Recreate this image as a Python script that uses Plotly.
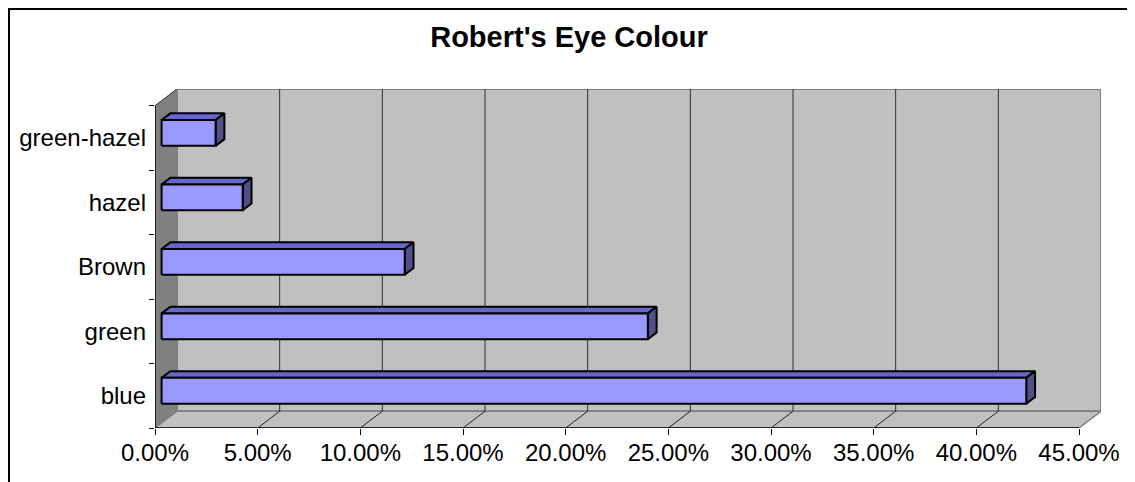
"""Robert's Eye Colour: Excel-style 3D horizontal bar chart."""

import plotly.graph_objects as go

categories = ["blue", "green", "Brown", "hazel", "green-hazel"]
shares = [42.11, 23.68, 11.84, 3.95, 2.63]  # percent
x_ticks = [0, 5, 10, 15, 20, 25, 30, 35, 40, 45]
x_tick_labels = [f"{t:.2f}%" for t in x_ticks]

# oblique depth of the chart box, in axis units
DX = 1.0714
DY = 0.26
BAR_HALF = 0.2
F0, F1 = 0.3, 0.7

FRONT = "#9999FF"
TOP = "#6666CC"
SIDE = "#505088"
WALL = "#C0C0C0"
SIDE_WALL = "#808080"
FONT = "Liberation Sans, Arial, sans-serif"

n = len(categories)
xmax = x_ticks[-1]

fig = go.Figure()


def poly(xs, ys, fill, line_color=None, width=1.0):
    fig.add_trace(
        go.Scatter(
            x=xs + xs[:1], y=ys + ys[:1], mode="lines", fill="toself",
            fillcolor=fill, line={"color": line_color or fill, "width": width},
            hoverinfo="skip", showlegend=False,
        )
    )


def seg(xs, ys, color, width=1.0):
    fig.add_trace(
        go.Scatter(
            x=xs, y=ys, mode="lines", line={"color": color, "width": width},
            hoverinfo="skip", showlegend=False,
        )
    )


# back wall, left wall, floor
poly([DX, xmax + DX, xmax + DX, DX], [DY, DY, n + DY, n + DY], WALL, SIDE_WALL, 2)
poly([0, DX, DX, 0], [0, DY, n + DY, n], SIDE_WALL, SIDE_WALL, 1)
poly([0, xmax, xmax + DX, DX], [0, 0, DY, DY], WALL, SIDE_WALL, 1.5)
seg([0, DX], [n, n + DY], "#404040", 1)

# gridlines on the back wall and floor
for t in x_ticks[1:-1]:
    seg([t + DX, t + DX], [DY, n + DY], "#303030", 1)
    seg([t, t + DX], [0, DY], "#202020", 1)

# front axis lines
seg([0, xmax], [0, 0], "black", 1.5)
seg([0, 0], [0, n], "black", 1.5)

# bars
for i, v in enumerate(shares):
    y0 = i + 0.5 - BAR_HALF
    y1 = i + 0.5 + BAR_HALF
    a0, a1 = F0 * DX, F1 * DX
    b0, b1 = F0 * DY, F1 * DY
    poly([a0, v + a0, v + a1, a1], [y1 + b0, y1 + b0, y1 + b1, y1 + b1], TOP, "black", 2)
    poly([v + a0, v + a1, v + a1, v + a0], [y0 + b0, y0 + b1, y1 + b1, y1 + b0], SIDE, "black", 2)
    poly([a0, v + a0, v + a0, a0], [y0 + b0, y0 + b0, y1 + b0, y1 + b0], FRONT, "black", 2)

# the page body adds an 8px offset, so margins are shifted to compensate
fig.update_layout(
    width=1135,
    height=482,
    margin={"l": 147, "r": 42, "t": 81, "b": 62},
    paper_bgcolor="white",
    plot_bgcolor="white",
    showlegend=False,
    font={"family": FONT, "size": 24, "color": "black"},
    title={
        "text": "<b>Robert's Eye Colour</b>",
        "font": {"family": FONT, "size": 29, "color": "black"},
        "xref": "container", "x": 561 / 1135, "xanchor": "center",
        "yref": "container", "y": 1 - 29 / 482, "yanchor": "middle",
    },
    xaxis={
        "range": [0, xmax + DX],
        "tickmode": "array", "tickvals": x_ticks, "ticktext": x_tick_labels,
        "ticks": "outside", "ticklen": 6, "tickcolor": "black", "tickwidth": 1,
        "ticklabelstandoff": -3,
        "showgrid": False, "zeroline": False, "showline": False,
        "fixedrange": True,
    },
    yaxis={
        "range": [0, n + DY],
        "tickmode": "array",
        "tickvals": [i + 0.5 for i in range(n)], "ticktext": categories,
        "ticks": "", "ticklen": 0, "ticklabelstandoff": 8,
        "minor": {
            "tickmode": "array", "tickvals": list(range(n + 1)),
            "ticks": "outside", "ticklen": 5, "tickcolor": "black", "tickwidth": 1,
            "showgrid": False,
        },
        "showgrid": False, "zeroline": False, "showline": False,
        "fixedrange": True,
    },
    shapes=[
        {
            "type": "rect", "xref": "paper", "yref": "paper",
            "x0": (9 - 155) / 946, "x1": (1138 - 155) / 946,
            "y0": (428 - 495) / 339, "y1": (428 - 9) / 339,
            "line": {"color": "black", "width": 2}, "layer": "below",
        }
    ],
)

fig.write_html("out.html")
